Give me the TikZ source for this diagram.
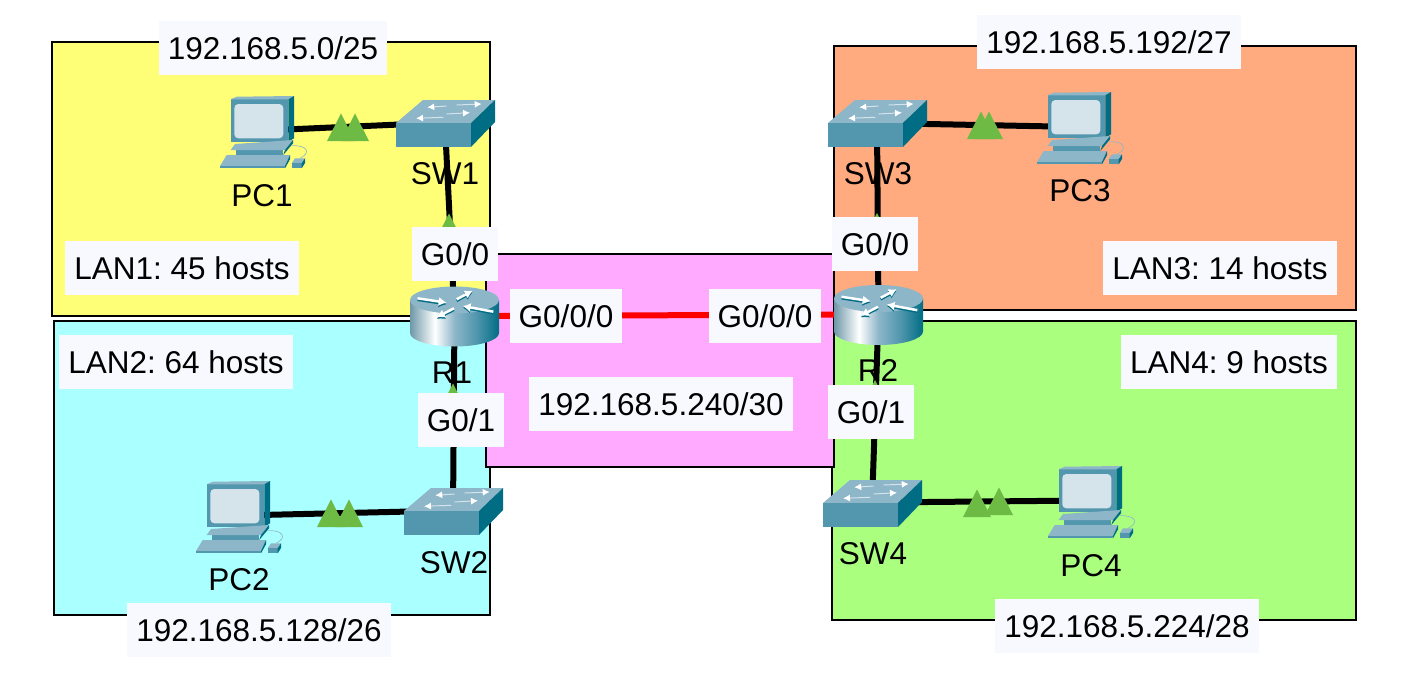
\documentclass[tikz,border=0pt]{standalone}
\usepackage{fontspec}
\setmainfont{Liberation Sans}
\usetikzlibrary{arrows.meta,positioning}

\definecolor{lanyellow}{HTML}{FFFF77}
\definecolor{lancyan}{HTML}{AAFFFF}
\definecolor{lanorange}{HTML}{FFAA7F}
\definecolor{langreen}{HTML}{AAFF7F}
\definecolor{wanpink}{HTML}{FFAAFF}
\definecolor{labelbg}{HTML}{F8F9FF}
\definecolor{icondark}{HTML}{006D85}
\definecolor{iconmid}{HTML}{5297AE}
\definecolor{iconlight}{HTML}{8DB6C8}
\definecolor{iconscreen}{HTML}{D5E3EB}
\definecolor{iconedge}{HTML}{6E98A8}
\definecolor{linkgreen}{HTML}{6DBB45}
\pgfdeclarehorizontalshading{routerbody}{100bp}{color(0bp)=(iconedge); color(25bp)=(iconedge); color(39bp)=(white); color(50bp)=(iconlight); color(62bp)=(iconmid); color(75bp)=(icondark); color(100bp)=(icondark)}

\begin{document}
\begin{tikzpicture}[
    x=1pt, y=-1pt,
    font=\fontsize{31.5}{36}\selectfont\frenchspacing,
    lan/.style={draw=black, line width=2pt},
    link/.style={line width=6pt, black},
    wan/.style={line width=6pt, red},
    lbl/.style={fill=labelbg, inner xsep=9pt, inner ysep=15.5pt, text height=23pt, text depth=0pt},
    devname/.style={inner sep=0pt, text height=23pt, text depth=0pt},
    dev/.style={inner sep=0pt, minimum size=0pt},
    tip/.style={iconscreen, line width=1pt, -{Latex[length=7pt,width=7pt,white]}},
    rtip/.style={line width=2.5pt, -{Latex[length=8pt,width=9pt]}},
    updot/.pic={\fill[linkgreen] (-14,0) -- (0,-27.5) -- (14,0) -- cycle;},
    pcicon/.pic={
        \fill[iconmid] (-32.3,-33.7) rectangle (25.3,8.7);
        \fill[iconlight] (-32.3,-33.7) -- (-26.3,-36.3) -- (31,-37) -- (25.3,-33.7) -- cycle;
        \fill[icondark] (25.3,-33.7) -- (31,-37) -- (31,5.3) -- (25.3,8.7) -- cycle;
        \fill[iconscreen, rounded corners=4pt] (-28.7,-29) rectangle (20.3,5.3);
        \fill[iconmid] (-27.3,17) rectangle (20.3,22);
        \fill[iconlight] (-32.3,17) -- (-28,11) -- (30,7) -- (22,17) -- cycle;
        \fill[icondark] (22,17) -- (30,7) -- (30,10.3) -- (20.3,22) -- cycle;
        \fill[iconlight] (-43,33) -- (-36.3,22) -- (27,22) -- (22,33) -- cycle;
        \fill[iconmid] (-43,33) rectangle (22,35.3);
        \fill[icondark] (22,33) -- (27,22) -- (27,26.3) -- (22,35.3) -- cycle;
        \draw[iconlight, line width=0.6pt] (28.7,12.7) .. controls (45,12) and (48,20) .. (37,25.3);
        \fill[iconlight] (28.7,30.3) -- (32,25.3) -- (42,25.3) -- (38.7,30.3) -- cycle;
        \fill[iconmid] (28.7,30.3) rectangle (38.7,35.3);
        \fill[icondark] (38.7,30.3) -- (42,25.3) -- (42,30) -- (38.7,35.3) -- cycle;
    },
    switchicon/.pic={
        \fill[iconlight] (-49,-2) -- (-22,-25) -- (50,-25) -- (26,-2) -- cycle;
        \fill[iconmid] (-49,-2) rectangle (26,22);
        \fill[icondark] (26,-2) -- (50,-25) -- (50,-3) -- (26,22) -- cycle;
        \draw[tip] (1.7,-19) -- (-17.7,-17.7);
        \draw[tip] (11.7,-20) -- (36.7,-21);
        \draw[tip] (-1.7,-7.7) -- (-29,-6.7);
        \draw[tip] (1.7,-11) -- (25,-12.3);
    },
    routericon/.pic={
        \path[shading=routerbody] (-44.5,-16) -- (-44.5,17) arc[start angle=180, end angle=0, x radius=44.5, y radius=13.5] -- (44.5,-16) -- cycle;
        \fill[iconlight] (0,-16) ellipse[x radius=44.5, y radius=13.5];
        \foreach \col/\off in {icondark/1.5, white/0} {
            \draw[rtip, \col] (-37,-17.7+\off) -- (-7.8,-13.3+\off);
            \draw[rtip, \col] (2.2,-16.7+\off) -- (18.2,-25.3+\off);
            \draw[rtip, \col] (38.8,-4.3+\off) -- (8.2,-10+\off);
            \draw[rtip, \col] (-0.5,-7.7+\off) -- (-17.8,1.3+\off);
        }
    }
]
\useasboundingbox (0,0) rectangle (1409,675);

\draw[lan, fill=lanyellow] (52,42) rectangle (490,316);
\draw[lan, fill=lancyan] (54,321) rectangle (490,615);
\draw[lan, fill=lanorange] (834,46) rectangle (1356,310);
\draw[lan, fill=langreen] (832,321) rectangle (1356,620);
\draw[lan, fill=wanpink] (486,254) rectangle (834,467);

\node[dev] (pc1) at (263,133) {};
\node[dev] (pc2) at (239,518) {};
\node[dev] (pc3) at (1080,129) {};
\node[dev] (pc4) at (1091,503) {};
\node[dev] (sw1) at (445,125) {};
\node[dev] (sw2) at (453,513) {};
\node[dev] (sw3) at (877,125) {};
\node[dev] (sw4) at (872,505) {};
\node[dev] (r1) at (454.5,316) {};
\node[dev] (r2) at (878.5,314.5) {};

\node[devname] (pc1name) at (262,195) {PC1};
\node[devname] (sw1name) at (445,173) {SW1};
\node[devname] (r1name) at (452,372) {R1};
\node[devname] (pc2name) at (239,579) {PC2};
\node[devname] (sw2name) at (454,562) {SW2};
\node[devname] (pc3name) at (1080,190) {PC3};
\node[devname] (sw3name) at (878,173) {SW3};
\node[devname] (r2name) at (878,370) {R2};
\node[devname] (sw4name) at (873,553) {SW4};
\node[devname] (pc4name) at (1091,565) {PC4};

\draw[link] ([yshift=2.5pt]pc1.center) -- ([yshift=2.5pt]sw1.center);
\draw[link] ([yshift=2.5pt]pc2.center) -- ([yshift=2.5pt]sw2.center);
\draw[link] ([yshift=2pt]sw3.center) -- ([yshift=2pt]pc3.center);
\draw[link] ([yshift=2.5pt]sw4.center) -- ([yshift=2.5pt]pc4.center);
\draw[link] (sw1) -- (r1);
\draw[link] (r1) -- (sw2);
\draw[link] (sw3) -- (r2);
\draw[link] (r2) -- (sw4);
\draw[wan] (r1) -- (r2);

\pic at (341,141) {updot};
\pic at (355,141) {updot};
\pic at (981,139) {updot};
\pic at (989,139) {updot};
\pic at (331,527) {updot};
\pic at (349,527) {updot};
\pic at (977,517) {updot};
\pic at (999,515) {updot};
\pic at (449,241) {updot};
\pic at (453,411) {updot};
\pic at (877,240.5) {updot};
\pic at (875,407.5) {updot};

\pic at (pc1) {pcicon};
\pic at (pc2) {pcicon};
\pic at (pc3) {pcicon};
\pic at (pc4) {pcicon};
\pic at (sw1) {switchicon};
\pic at (sw2) {switchicon};
\pic at (sw3) {switchicon};
\pic at (sw4) {switchicon};
\pic at (r1) {routericon};
\pic at (r2) {routericon};

\node[lbl] (net1) at (273,48) {192.168.5.0/25};
\node[lbl] (net3) at (1109,42) {192.168.5.192/27};
\node[lbl] (net2) at (259,630) {192.168.5.128/26};
\node[lbl] (net4) at (1127,626) {192.168.5.224/28};
\node[lbl] (net5) at (661,404) {192.168.5.240/30};
\node[lbl] (r1g00) at (455,254) {G0/0};
\node[lbl] (r1g01) at (461,420) {G0/1};
\node[lbl] (r2g00) at (875,244) {G0/0};
\node[lbl] (r2g01) at (871,412) {G0/1};
\node[lbl] (r1s) at (566,316) {G0/0/0};
\node[lbl] (r2s) at (765,316) {G0/0/0};
\node[lbl] (lan1) at (182,268) {LAN1: 45 hosts};
\node[lbl] (lan2) at (176,362) {LAN2: 64 hosts};
\node[lbl] (lan3) at (1220,268) {LAN3: 14 hosts};
\node[lbl] (lan4) at (1229,362) {LAN4: 9 hosts};
\end{tikzpicture}
\end{document}
